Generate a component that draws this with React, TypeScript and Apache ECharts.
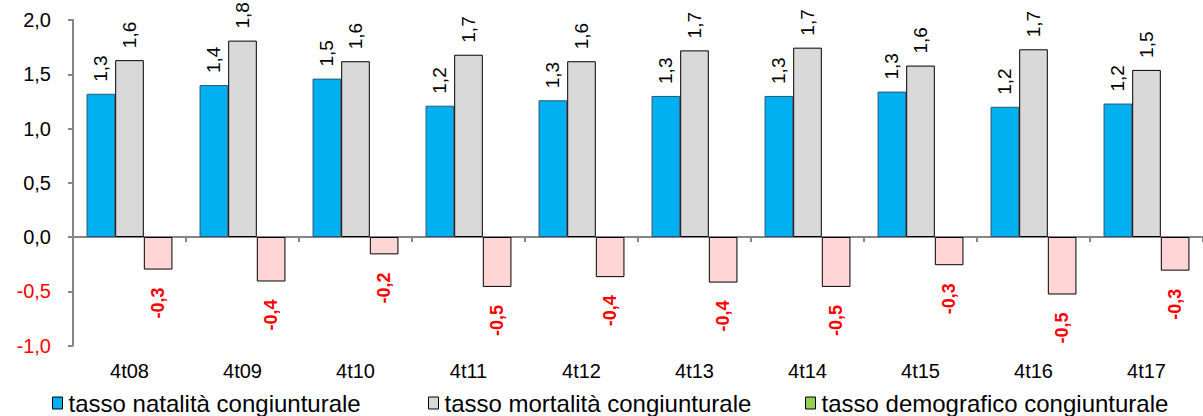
import React, { useEffect, useRef } from "react";
import * as echarts from "echarts";

const categories = ["4t08", "4t09", "4t10", "4t11", "4t12", "4t13", "4t14", "4t15", "4t16", "4t17"];
const natalita = [1.32, 1.4, 1.46, 1.21, 1.26, 1.3, 1.3, 1.34, 1.2, 1.23];
const mortalita = [1.63, 1.81, 1.62, 1.68, 1.62, 1.72, 1.745, 1.58, 1.73, 1.54];
const demografico = [-0.3, -0.41, -0.16, -0.46, -0.37, -0.42, -0.46, -0.26, -0.53, -0.31];
const seriesNames = [
  "tasso natalità congiunturale",
  "tasso mortalità congiunturale",
  "tasso demografico congiunturale",
];

const FONT = "'Liberation Sans', Arial, sans-serif";
const fmt = (v: number) => v.toFixed(1).replace(".", ",");

export default function App() {
  const ref = useRef<HTMLDivElement>(null);
  useEffect(() => {
    if (!ref.current) return;
    const chart = echarts.init(ref.current, null, { renderer: "svg" });
    const posLabel = {
      show: true,
      position: "top",
      rotate: 90,
      align: "left",
      verticalAlign: "middle",
      distance: 12,
      color: "#000",
      fontSize: 19,
      fontFamily: FONT,
      formatter: (p: any) => fmt(p.value),
    };
    const legendCommon = {
      top: 391,
      padding: 0,
      icon: "rect",
      itemWidth: 10,
      itemHeight: 12,
      textStyle: { fontSize: 24, fontFamily: FONT, color: "#000", padding: [0, 0, 0, 1] },
      itemStyle: { borderColor: "#000", borderWidth: 1 },
      selectedMode: false,
    };
    chart.setOption({
      animation: false,
      textStyle: { fontFamily: FONT },
      grid: { left: 73, right: 0, top: 20, bottom: 70.5, containLabel: false },
      legend: [
        { ...legendCommon, left: 52, data: [{ name: seriesNames[0] }] },
        { ...legendCommon, left: 428, data: [{ name: seriesNames[1] }] },
        { ...legendCommon, left: 805, data: [{ name: seriesNames[2], itemStyle: { color: "#92D050" } }] },
      ],
      xAxis: [
        {
          type: "category",
          data: categories,
          position: "bottom",
          axisLine: { show: false, onZero: false },
          axisTick: { show: false },
          axisLabel: { fontSize: 20, color: "#000", margin: 15, fontFamily: FONT },
        },
        {
          type: "category",
          data: categories,
          position: "bottom",
          axisLine: { show: true, onZero: true, lineStyle: { color: "#868686", width: 2 } },
          axisTick: { show: true, length: 5, lineStyle: { color: "#868686", width: 2 } },
          axisLabel: { show: false },
        },
      ],
      yAxis: {
        type: "value",
        min: -1,
        max: 2,
        interval: 0.5,
        splitLine: { show: false },
        axisLine: { show: true, lineStyle: { color: "#868686", width: 2 } },
        axisTick: { show: true, length: 5, lineStyle: { color: "#868686", width: 2 } },
        axisLabel: {
          fontSize: 20,
          margin: 22,
          fontFamily: FONT,
          formatter: (v: number) => fmt(v),
          color: (v: any) => (Number(v) < 0 ? "#FF0000" : "#000"),
        },
      },
      series: [
        {
          name: seriesNames[0],
          type: "bar",
          data: natalita,
          barGap: "0%",
          barCategoryGap: "24%",
          itemStyle: { color: "#00B0F0", borderColor: "#2B5673", borderWidth: 1 },
          label: posLabel,
        },
        {
          name: seriesNames[1],
          type: "bar",
          data: mortalita,
          barGap: "0%",
          barCategoryGap: "24%",
          itemStyle: { color: "#D9D9D9", borderColor: "#000", borderWidth: 1 },
          label: posLabel,
        },
        {
          name: seriesNames[2],
          type: "bar",
          data: demografico,
          barGap: "0%",
          barCategoryGap: "24%",
          itemStyle: { color: "#FFD5D5", borderColor: "#000", borderWidth: 1 },
          label: {
            show: true,
            position: "bottom",
            rotate: 90,
            align: "right",
            verticalAlign: "middle",
            distance: 18,
            color: "#FF0000",
            fontWeight: "bold",
            fontSize: 18,
            fontFamily: FONT,
            formatter: (p: any) => fmt(p.value),
          },
        },
      ],
    });
    return () => chart.dispose();
  }, []);
  return (
    <div
      ref={ref}
      style={{ position: "absolute", left: 0, top: 0, width: 1203, height: 416, background: "#fff" }}
    />
  );
}
